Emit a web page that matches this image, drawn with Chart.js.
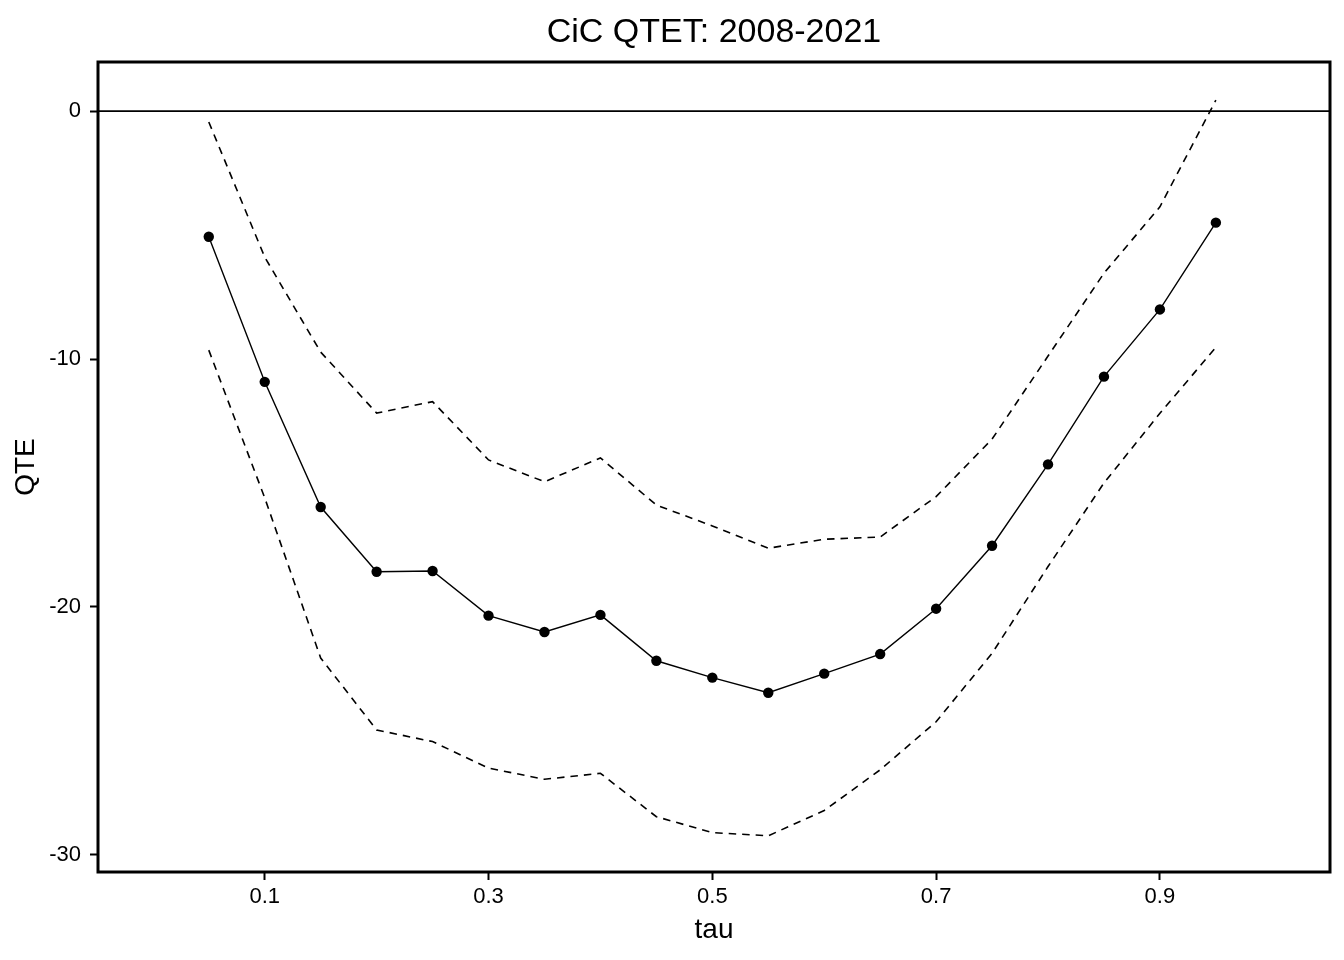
<!DOCTYPE html>
<html>
<head>
    <title>CiC QTET</title>
    <style>
        body {
            margin: 0;
            background-color: white;
        }
    </style>
    <script src="https://cdn.jsdelivr.net/npm/chart.js"></script>
</head>
<body>
    <canvas id="qtetChart" width="1344" height="960"></canvas>

    <script>
        var tau = [0.05, 0.10, 0.15, 0.20, 0.25, 0.30, 0.35, 0.40, 0.45, 0.50,
                   0.55, 0.60, 0.65, 0.70, 0.75, 0.80, 0.85, 0.90, 0.95];
        var qte = [-5.07, -10.92, -15.97, -18.58, -18.55, -20.35, -21.01, -20.32, -22.17, -22.85,
                   -23.46, -22.69, -21.90, -20.07, -17.53, -14.25, -10.71, -8.00, -4.50];
        var upper = [-0.44, -5.89, -9.72, -12.18, -11.72, -14.07, -14.95, -13.99, -15.89, -16.73,
                     -17.63, -17.27, -17.18, -15.55, -13.23, -9.88, -6.54, -3.86, 0.44];
        var lower = [-9.64, -15.60, -22.06, -24.96, -25.43, -26.50, -26.95, -26.71, -28.46, -29.10,
                     -29.23, -28.21, -26.57, -24.63, -21.87, -18.37, -15.00, -12.19, -9.53];
        var xTicks = [0.1, 0.3, 0.5, 0.7, 0.9];
        var yTicks = [0, -10, -20, -30];
        var titulo = 'CiC QTET: 2008-2021';

        var fuente = "'Liberation Sans', Arial, sans-serif";

        function puntos(valores) {
            return tau.map(function (t, i) { return { x: t, y: valores[i] }; });
        }

        // marco del panel, linea en cero y titulo
        var marcoPlugin = {
            id: 'marco',
            beforeDatasetsDraw: function (chart) {
                var ctx = chart.ctx;
                var area = chart.chartArea;
                var y0 = chart.scales.y.getPixelForValue(0);
                ctx.save();
                ctx.strokeStyle = 'black';
                ctx.lineWidth = 1.8;
                ctx.beginPath();
                ctx.moveTo(area.left, y0);
                ctx.lineTo(area.right, y0);
                ctx.stroke();
                ctx.restore();
            },
            afterDraw: function (chart) {
                var ctx = chart.ctx;
                var area = chart.chartArea;
                ctx.save();
                ctx.strokeStyle = 'black';
                ctx.lineWidth = 3;
                ctx.strokeRect(area.left, area.top, area.right - area.left, area.bottom - area.top);
                ctx.fillStyle = 'black';
                ctx.font = '34px ' + fuente;
                ctx.textAlign = 'center';
                ctx.textBaseline = 'alphabetic';
                ctx.fillText(titulo, (area.left + area.right) / 2, 42);
                ctx.restore();
            }
        };

        var dashed = {
            borderColor: 'black',
            borderWidth: 1.6,
            borderDash: [7.5, 6],
            pointRadius: 0,
            fill: false,
            tension: 0
        };

        new Chart(document.getElementById('qtetChart'), {
            type: 'line',
            data: {
                datasets: [
                    Object.assign({ label: 'upper', data: puntos(upper) }, dashed),
                    Object.assign({ label: 'lower', data: puntos(lower) }, dashed),
                    {
                        label: 'QTE',
                        data: puntos(qte),
                        borderColor: 'black',
                        borderWidth: 1.4,
                        pointRadius: 5.2,
                        pointBorderWidth: 0,
                        pointBackgroundColor: 'black',
                        fill: false,
                        tension: 0
                    }
                ]
            },
            options: {
                responsive: false,
                animation: false,
                layout: {
                    padding: { top: 62, right: 14, left: 0, bottom: 0 }
                },
                plugins: {
                    legend: { display: false },
                    tooltip: { enabled: false }
                },
                scales: {
                    x: {
                        type: 'linear',
                        min: -0.049,
                        max: 1.052,
                        afterBuildTicks: function (scale) {
                            scale.ticks = xTicks.map(function (v) { return { value: v }; });
                        },
                        afterFit: function (scale) { scale.height = 88; },
                        grid: {
                            drawOnChartArea: false,
                            tickLength: 8,
                            tickWidth: 2,
                            tickColor: 'black'
                        },
                        border: { display: false },
                        ticks: {
                            color: 'black',
                            padding: 4,
                            maxRotation: 0,
                            font: { family: fuente, size: 22 },
                            callback: function (v) { return v.toFixed(1); }
                        },
                        title: {
                            display: true,
                            text: 'tau',
                            color: 'black',
                            font: { family: fuente, size: 28 },
                            padding: { bottom: 13, top: 0 }
                        }
                    },
                    y: {
                        type: 'linear',
                        min: -30.69,
                        max: 1.98,
                        afterBuildTicks: function (scale) {
                            scale.ticks = yTicks.map(function (v) { return { value: v }; });
                        },
                        afterFit: function (scale) { scale.width = 98; },
                        grid: {
                            drawOnChartArea: false,
                            tickLength: 8,
                            tickWidth: 2,
                            tickColor: 'black'
                        },
                        border: { display: false },
                        ticks: {
                            color: 'black',
                            padding: 9,
                            font: { family: fuente, size: 22 }
                        },
                        title: {
                            display: true,
                            text: 'QTE',
                            color: 'black',
                            font: { family: fuente, size: 28 },
                            padding: { top: 9, bottom: 0 }
                        }
                    }
                }
            },
            plugins: [marcoPlugin]
        });
    </script>
</body>
</html>
